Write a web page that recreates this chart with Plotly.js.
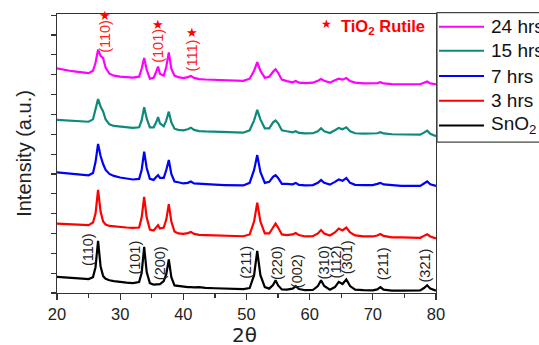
<!DOCTYPE html>
<html>
<head>
<meta charset="utf-8">
<script src="https://cdn.plot.ly/plotly-3.0.1.min.js"></script>
<style>html,body{margin:0;padding:0;background:#fff;}#chart{width:539px;height:345px;}</style>
</head>
<body>
<div id="chart"></div>
<script>
// 2-theta sampling (degrees), rows of 10
const twoTheta = [
  20, 21, 22, 23, 24, 25, 25.7, 26.1, 26.5, 26.9,
  27.3, 27.7, 28.3, 29, 30, 31, 32, 33, 33.4, 33.8,
  34.2, 34.7, 35.3, 35.7, 36.0, 36.3, 36.9, 37.3, 37.7, 38.1,
  38.6, 39.2, 40, 40.7, 41.2, 41.7, 42.5, 43.5, 45, 46.5,
  48, 49.5, 50.5, 51.2, 51.7, 52.2, 52.9, 53.6, 54.2, 54.6,
  55.0, 55.6, 56.4, 57.3, 57.8, 58.3, 59.3, 60.5, 61.3, 61.8,
  62.3, 63.2, 64.0, 64.6, 65.2, 65.8, 66.4, 67.2, 68.5, 70,
  70.7, 71.2, 71.7, 73, 74.5, 76, 77.5, 78.1, 78.6, 79.1,
  80
];
const sno2 = [
  0.81, 0.78, 0.76, 0.72, 0.72, 0.70, 0.80, 1.30, 2.63, 1.35,
  0.85, 0.72, 0.64, 0.60, 0.55, 0.52, 0.50, 0.55, 1.00, 2.32,
  1.05, 0.50, 0.42, 0.42, 0.42, 0.45, 0.60, 0.95, 1.69, 0.80,
  0.38, 0.35, 0.32, 0.30, 0.30, 0.28, 0.30, 0.26, 0.24, 0.22,
  0.20, 0.20, 0.25, 0.90, 2.12, 0.90, 0.30, 0.22, 0.40, 0.64,
  0.38, 0.18, 0.17, 0.22, 0.34, 0.20, 0.14, 0.15, 0.35, 0.64,
  0.35, 0.17, 0.30, 0.56, 0.45, 0.68, 0.35, 0.17, 0.14, 0.13,
  0.18, 0.30, 0.17, 0.12, 0.12, 0.12, 0.13, 0.25, 0.39, 0.22,
  0.12
];
const hrs3 = [
  3.50, 3.48, 3.47, 3.44, 3.43, 3.42, 3.55, 4.00, 5.20, 4.10,
  3.60, 3.45, 3.38, 3.35, 3.32, 3.30, 3.28, 3.30, 3.80, 4.85,
  3.80, 3.20, 3.15, 3.30, 3.42, 3.25, 3.30, 3.70, 4.48, 3.60,
  3.10, 3.00, 2.98, 3.02, 3.08, 2.98, 2.93, 2.92, 2.90, 2.88,
  2.86, 2.86, 2.95, 3.60, 4.55, 3.60, 3.00, 3.00, 3.30, 3.50,
  3.30, 2.95, 2.92, 2.95, 3.02, 2.92, 2.85, 2.86, 3.00, 3.17,
  3.00, 2.90, 3.05, 3.25, 3.15, 3.30, 3.05, 2.90, 2.85, 2.85,
  2.90, 2.97, 2.88, 2.80, 2.80, 2.78, 2.78, 2.88, 2.96, 2.85,
  2.75
];
const hrs7 = [
  6.08, 6.05, 6.02, 6.00, 5.98, 5.93, 6.05, 6.60, 7.51, 6.90,
  6.50, 6.20, 6.00, 5.90, 5.82, 5.78, 5.72, 5.75, 6.20, 7.12,
  6.30, 5.75, 5.70, 5.85, 5.94, 5.80, 5.80, 6.20, 6.70, 6.00,
  5.62, 5.58, 5.52, 5.55, 5.62, 5.52, 5.50, 5.48, 5.46, 5.44,
  5.42, 5.42, 5.55, 6.20, 6.95, 6.10, 5.55, 5.60, 5.85, 5.94,
  5.80, 5.50, 5.50, 5.48, 5.55, 5.45, 5.42, 5.44, 5.55, 5.69,
  5.55, 5.46, 5.60, 5.72, 5.65, 5.79, 5.55, 5.45, 5.44, 5.44,
  5.50, 5.55, 5.47, 5.43, 5.40, 5.40, 5.40, 5.52, 5.62, 5.48,
  5.40
];
const hrs15 = [
  8.72, 8.70, 8.68, 8.66, 8.65, 8.63, 8.75, 9.20, 9.77, 9.40,
  9.15, 8.75, 8.50, 8.42, 8.38, 8.35, 8.32, 8.35, 8.70, 9.36,
  8.80, 8.35, 8.35, 8.60, 8.86, 8.55, 8.40, 8.70, 9.14, 8.60,
  8.28, 8.22, 8.20, 8.25, 8.33, 8.22, 8.16, 8.14, 8.12, 8.10,
  8.08, 8.08, 8.20, 8.70, 9.23, 8.75, 8.30, 8.30, 8.60, 8.69,
  8.55, 8.20, 8.15, 8.10, 8.15, 8.07, 8.04, 8.05, 8.15, 8.30,
  8.15, 8.06, 8.20, 8.32, 8.25, 8.35, 8.15, 8.05, 8.03, 8.02,
  8.05, 8.10, 8.04, 8.00, 8.00, 7.98, 7.98, 8.08, 8.18, 8.02,
  7.90
];
const hrs24 = [
  11.32, 11.25, 11.20, 11.16, 11.12, 11.08, 11.20, 11.60, 12.26, 11.95,
  11.84, 11.35, 11.05, 10.95, 10.90, 10.88, 10.85, 10.90, 11.30, 11.84,
  11.25, 10.80, 10.85, 11.15, 11.41, 11.05, 10.95, 11.40, 12.12, 11.30,
  10.95, 10.88, 10.83, 10.88, 10.94, 10.84, 10.78, 10.76, 10.74, 10.72,
  10.70, 10.69, 10.80, 11.20, 11.63, 11.20, 10.85, 10.90, 11.15, 11.28,
  11.10, 10.75, 10.68, 10.62, 10.68, 10.60, 10.58, 10.60, 10.70, 10.78,
  10.70, 10.60, 10.72, 10.80, 10.75, 10.83, 10.68, 10.60, 10.56, 10.55,
  10.58, 10.62, 10.56, 10.53, 10.52, 10.52, 10.52, 10.60, 10.66, 10.56,
  10.52
];
const seriesNames = ["24 hrs", "15 hrs", "7 hrs", "3 hrs", "SnO<sub>2</sub>"];
const seriesData = [hrs24, hrs15, hrs7, hrs3, sno2];
const seriesColors = ["#ff00ff", "#0e8a7c", "#0000ff", "#ff0000", "#000000"];

// SnO2 reflections (label, 2theta, label height)
const sno2Labels = ["(110)", "(101)", "(200)", "(211)", "(220)", "(002)", "(310)", "(112)", "(301)", "(211)", "(321)"];
const sno2LabelX = [24.9, 32.4, 36.3, 50.0, 54.8, 58.0, 62.3, 64.2, 65.9, 71.6, 78.3];
const sno2LabelY = [2.21, 1.80, 1.50, 1.55, 1.50, 1.10, 1.55, 1.55, 1.80, 1.50, 1.40];
// TiO2 rutile reflections
const rutileLabels = ["(110)", "(101)", "(111)"];
const rutileLabelX = [27.6, 36.0, 41.3];
const rutileLabelY = [12.91, 12.46, 11.95];
const rutileStarY = [13.99, 13.52, 13.12];

const FONT = "Liberation Sans, Arial, Helvetica, sans-serif";

const traces = seriesData.map((d, i) => ({
  x: twoTheta, y: d, type: "scatter", mode: "lines",
  name: seriesNames[i], showlegend: false,
  line: {color: seriesColors[i], width: 2.2}
}));

const annotations = [];
sno2Labels.forEach((t, i) => annotations.push({
  x: sno2LabelX[i], y: sno2LabelY[i], xref: "x", yref: "y", text: t,
  textangle: -90, showarrow: false, font: {family: FONT, size: 14.5, color: "#222"}
}));
rutileLabels.forEach((t, i) => {
  annotations.push({
    x: rutileLabelX[i], y: rutileLabelY[i], xref: "x", yref: "y", text: t,
    textangle: -90, showarrow: false, font: {family: FONT, size: 14.5, color: "#ff2020"}
  });
  annotations.push({
    x: rutileLabelX[i], y: rutileStarY[i], xref: "x", yref: "y", text: "★",
    showarrow: false, font: {family: "DejaVu Sans", size: 13, color: "#ff0000"}
  });
});
annotations.push({x: 62.7, y: 13.57, xref: "x", yref: "y", text: "★", showarrow: false,
  font: {family: "DejaVu Sans", size: 12, color: "#ff0000"}});
annotations.push({x: 64.6, y: 13.42, xref: "x", yref: "y", xanchor: "left", text: "<b>TiO<sub>2</sub> Rutile</b>",
  showarrow: false, font: {family: FONT, size: 16.5, color: "#ff0000"}});

// manual legend
const plotL = 57, plotW = 379, plotB = 292.7, plotH = 278.7;
const px = v => (v - plotL) / plotW;
const py = v => (plotB - v) / plotH;
const shapes = [{
  type: "rect", xref: "paper", yref: "paper", x0: px(437), x1: px(560), y0: py(142), y1: py(12.7),
  line: {color: "#444", width: 1.2}, fillcolor: "rgba(0,0,0,0)"
}];
const legendY = [26.7, 50.7, 76, 100.7, 125.3];
seriesNames.forEach((n, i) => {
  shapes.push({type: "line", xref: "paper", yref: "paper", x0: px(439), x1: px(484),
    y0: py(legendY[i]), y1: py(legendY[i]), line: {color: seriesColors[i], width: 2}});
  annotations.push({xref: "paper", yref: "paper", x: px(489), y: py(legendY[i]), xanchor: "left", yanchor: "middle",
    text: n, showarrow: false, font: {family: FONT, size: 19, color: "#111"}});
});

// x-axis title placed below the tick labels
annotations.push({xref: "paper", yref: "paper", x: px(244), y: py(334.5), xanchor: "center", yanchor: "middle",
  text: "2θ", showarrow: false, font: {family: "DejaVu Sans", size: 20, color: "#222"}});

const layout = {
  width: 539, height: 345,
  margin: {l: 57, r: 103, t: 14, b: 52.3, pad: 0},
  paper_bgcolor: "#fff", plot_bgcolor: "#fff",
  showlegend: false,
  xaxis: {
    range: [20, 80], tickmode: "linear", tick0: 20, dtick: 10,
    ticks: "outside", ticklen: 6, tickwidth: 1.2, tickcolor: "#333",
    minor: {dtick: 5, ticks: "outside", ticklen: 4, tickwidth: 1.2, tickcolor: "#333"},
    showline: true, linecolor: "#333", linewidth: 1.3, mirror: true,
    showgrid: false, zeroline: false,
    tickfont: {family: FONT, size: 16.5, color: "#222"}
  },
  yaxis: {
    range: [0, 14.06], tickmode: "linear", tick0: 0, dtick: 1,
    ticks: "outside", ticklen: 5, tickwidth: 1.2, tickcolor: "#333",
    showticklabels: false,
    showline: true, linecolor: "#333", linewidth: 1.3, mirror: true,
    showgrid: false, zeroline: false,
    title: {text: "Intensity (a.u.)", font: {family: FONT, size: 20, color: "#222"}, standoff: 13}
  },
  annotations: annotations,
  shapes: shapes
};
Plotly.newPlot("chart", traces, layout, {displayModeBar: false, staticPlot: true});
</script>
</body>
</html>
